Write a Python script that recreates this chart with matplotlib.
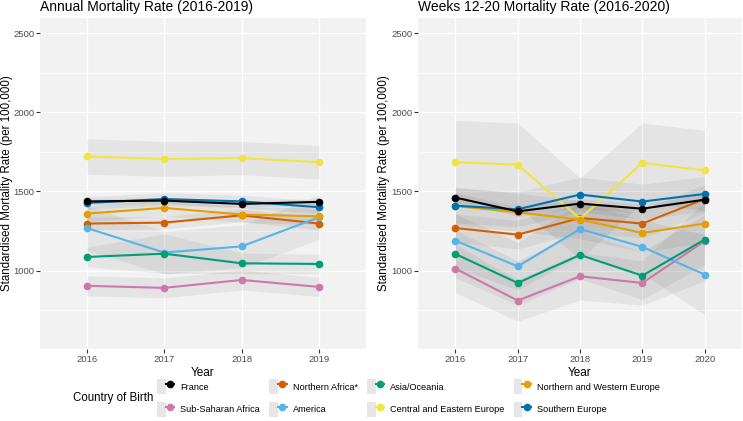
import matplotlib
matplotlib.use('Agg')
import matplotlib.pyplot as plt
from matplotlib.lines import Line2D
from matplotlib.patches import Patch
from matplotlib.legend_handler import HandlerTuple
from matplotlib.ticker import FixedLocator
import numpy as np

plt.rcParams['font.family'] = ['Liberation Sans', 'DejaVu Sans']

# ---------------- data ----------------
countries = ["France", "Sub-Saharan Africa", "Northern Africa*", "America",
             "Asia/Oceania", "Central and Eastern Europe",
             "Northern and Western Europe", "Southern Europe"]
colors = ["#000000", "#CC79A7", "#D55E00", "#56B4E9",
          "#009E73", "#F0E442", "#E69F00", "#0072B2"]

years_annual = [2016, 2017, 2018, 2019]
annual_france = [1437, 1442, 1421, 1434]
annual_subsaharan = [904, 891, 941, 897]
annual_nafrica = [1297, 1303, 1349, 1297]
annual_america = [1269, 1114, 1153, 1337]
annual_asia = [1086, 1107, 1046, 1042]
annual_cee = [1721, 1705, 1711, 1684]
annual_nwe = [1360, 1396, 1354, 1343]
annual_se = [1427, 1452, 1437, 1400]

# half-width of confidence bands (annual)
annual_ci_france = [20, 20, 20, 20]
annual_ci_subsaharan = [63, 63, 63, 60]
annual_ci_nafrica = [40, 40, 40, 40]
annual_ci_america = [140, 135, 135, 140]
annual_ci_asia = [62, 125, 65, 62]
annual_ci_cee = [112, 110, 105, 106]
annual_ci_nwe = [50, 50, 50, 50]
annual_ci_se = [40, 40, 40, 40]

years_weekly = [2016, 2017, 2018, 2019, 2020]
weekly_france = [1461, 1374, 1423, 1391, 1448]
weekly_subsaharan = [1013, 811, 964, 922, 1186]
weekly_nafrica = [1269, 1227, 1332, 1297, 1452]
weekly_america = [1189, 1027, 1262, 1150, 975]
weekly_asia = [1105, 922, 1099, 968, 1196]
weekly_cee = [1684, 1669, 1328, 1680, 1633]
weekly_nwe = [1408, 1368, 1322, 1238, 1297]
weekly_se = [1410, 1387, 1480, 1436, 1484]

weekly_ci_france = [30, 30, 30, 30, 30]
weekly_ci_subsaharan = [152, 131, 150, 140, 250]
weekly_ci_nafrica = [90, 90, 90, 90, 90]
weekly_ci_america = [170, 150, 170, 170, 253]
weekly_ci_asia = [150, 140, 150, 150, 160]
weekly_ci_cee = [265, 263, 257, 252, 253]
weekly_ci_nwe = [120, 120, 120, 120, 120]
weekly_ci_se = [110, 110, 110, 110, 110]

annual_vals = [annual_france, annual_subsaharan, annual_nafrica, annual_america,
               annual_asia, annual_cee, annual_nwe, annual_se]
annual_cis = [annual_ci_france, annual_ci_subsaharan, annual_ci_nafrica, annual_ci_america,
              annual_ci_asia, annual_ci_cee, annual_ci_nwe, annual_ci_se]
weekly_vals = [weekly_france, weekly_subsaharan, weekly_nafrica, weekly_america,
               weekly_asia, weekly_cee, weekly_nwe, weekly_se]
weekly_cis = [weekly_ci_france, weekly_ci_subsaharan, weekly_ci_nafrica, weekly_ci_america,
              weekly_ci_asia, weekly_ci_cee, weekly_ci_nwe, weekly_ci_se]

titles = ["Annual Mortality Rate (2016-2019)", "Weeks 12-20 Mortality Rate (2016-2020)"]
ylabel = "Standardised Mortality Rate (per 100,000)"
xlabel = "Year"
legend_title = "Country of Birth"
y_major = [1000, 1500, 2000, 2500]
y_minor = [750, 1250, 1750, 2250]

# ---------------- figure ----------------
W, H = 743, 421
fig = plt.figure(figsize=(W / 100, H / 100), dpi=100)
fig.patch.set_facecolor('white')

def frac(x0, y0, x1, y1):
    return [x0 / W, 1 - y1 / H, (x1 - x0) / W, (y1 - y0) / H]

ax1 = fig.add_axes(frac(40.3, 18, 365.6, 349))
ax2 = fig.add_axes(frac(418, 18, 742, 349))

panel_bg = '#F2F2F2'

def draw(ax, years, vals, cis, title, ylab_x):
    ax.set_facecolor(panel_bg)
    x = np.arange(len(years))
    for v, c in zip(vals, cis):
        v = np.array(v); c = np.array(c)
        ax.fill_between(x, v - c, v + c, color='black', alpha=0.055, lw=0, zorder=2)
    order = list(range(1, len(vals))) + [0]
    for k, i in enumerate(order):
        ax.plot(x, vals[i], color=colors[i], lw=1.5, marker='o', ms=4.5,
                zorder=3 + k, solid_capstyle='butt')
    ax.set_xlim(-0.6, len(years) - 1 + 0.6)
    ax.set_ylim(505, 2595)
    ax.set_xticks(x)
    ax.set_xticklabels([str(y) for y in years])
    ax.yaxis.set_major_locator(FixedLocator(y_major))
    ax.yaxis.set_minor_locator(FixedLocator(y_minor))
    ax.grid(which='major', color='white', lw=1.0, zorder=1)
    ax.grid(which='minor', axis='y', color='white', lw=0.5, zorder=1)
    ax.set_axisbelow(True)
    for s in ax.spines.values():
        s.set_visible(False)
    ax.tick_params(which='major', length=3, width=0.8, color='#333333',
                   labelsize=6.8, labelcolor='#4D4D4D', pad=1.2)
    ax.tick_params(which='minor', length=0)
    ax.set_xlabel(xlabel, fontsize=8.5, labelpad=2, color='black')
    ax.set_ylabel(ylabel, fontsize=8.3, color='black', va='center')
    ax.yaxis.set_label_coords(ylab_x, 0.5)
    ax.set_title(title, loc='left', fontsize=10, pad=5, color='black')

draw(ax1, years_annual, annual_vals, annual_cis, titles[0], (7.5 - 40.3) / 325.3)
draw(ax2, years_weekly, weekly_vals, weekly_cis, titles[1], (384 - 418) / 324.0)

# ---------------- legend ----------------
handles = []
for c in colors:
    handles.append((Patch(facecolor='#E6E6E6', edgecolor='none'),
                    Line2D([], [], color=c, lw=1.5, marker='o', ms=4.5)))
leg = fig.legend(handles, countries, ncol=4, loc='center left',
                 bbox_to_anchor=(157 / W, 1 - 398 / H), frameon=False,
                 fontsize=6.6, handlelength=1.9, handleheight=2.2,
                 handletextpad=0.65, columnspacing=1.0, labelspacing=0.8,
                 borderpad=0, borderaxespad=0,
                 handler_map={tuple: HandlerTuple(ndivide=None, pad=0)})
fig.text(73 / W, 1 - 398 / H, legend_title, fontsize=8.3, va='center', ha='left')

fig.savefig('out.png', dpi=100)
